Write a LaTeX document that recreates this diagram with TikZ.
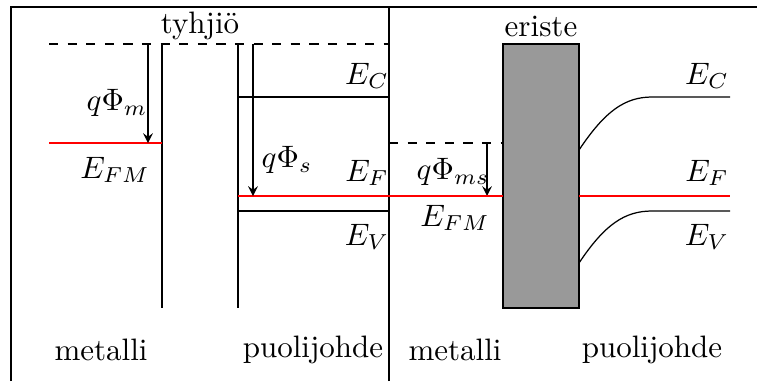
\documentclass[tikz,border=0pt]{standalone}
\usepackage{xcolor}
\usepackage{amsmath}
\usepackage{tikz}
\definecolor{insgray}{HTML}{999999}

\begin{document}
\begin{tikzpicture}[x=0.1134cm, y=0.1134cm]
    \useasboundingbox (0, 0) rectangle (75.7, 38.1);
    % frame
    \draw (1.1, 0) -- (1.1, 37.4) -- (75.7, 37.4);
    \draw (38.9, 0) -- (38.9, 37.4);

    % metalli ja puolijohde erikseen
    \node (vac) at (20, 35.5) {tyhjiö};
    \draw[dashed] (4.9, 33.7) -- (38.9, 33.7);
    \draw (16.2, 33.7) -- (16.2, 7.3);
    \draw[red] (4.9, 23.8) -- (16.2, 23.8);
    \coordinate (phim0) at (14.8, 33.7);
    \coordinate (phim1) at (14.8, 23.8);
    \draw[-stealth] (phim0) -- (phim1);
    \node (phim) at (11.7, 27.8) {$q\Phi_m$};
    \node (efm) at (11.5, 21.1) {$E_{FM}$};

    \draw (23.8, 33.7) -- (23.8, 7.3);
    \draw (23.8, 28.4) -- (38.9, 28.4);
    \draw[red] (23.8, 18.5) -- (38.9, 18.5);
    \draw (23.8, 17.0) -- (38.9, 17.0);
    \coordinate (phis0) at (25.3, 33.7);
    \coordinate (phis1) at (25.3, 18.5);
    \draw[-stealth] (phis0) -- (phis1);
    \node (phis) at (28.7, 22.1) {$q\Phi_s$};
    \node (ec) at (36.7, 30.5) {$E_C$};
    \node (ef) at (36.7, 20.8) {$E_F$};
    \node (ev) at (36.7, 14.4) {$E_V$};
    \node (met) at (10.1, 3.1) {metalli};
    \node (sem) at (31.3, 3.1) {puolijohde};

    % MOS-rakenne
    \node (ins) at (54.1, 35.5) {eriste};
    \fill[insgray] (50.3, 7.3) rectangle (57.9, 33.7);
    \draw (50.3, 7.3) rectangle (57.9, 33.7);
    \draw[dashed] (38.9, 23.8) -- (50.3, 23.8);
    \coordinate (phims0) at (48.7, 23.8);
    \coordinate (phims1) at (48.7, 18.5);
    \draw[-stealth] (phims0) -- (phims1);
    \node (phims) at (45.3, 20.9) {$q\Phi_{ms}$};
    \draw[red] (38.9, 18.5) -- (50.3, 18.5);
    \draw[red] (57.9, 18.5) -- (73.0, 18.5);
    \node (efm2) at (45.5, 16.3) {$E_{FM}$};
    \draw (57.9, 23.1) .. controls (60.5, 27) and (62.5, 28.4) .. (65.2, 28.4) -- (73.0, 28.4);
    \draw (57.9, 11.8) .. controls (60.5, 15.7) and (62.5, 17.0) .. (65.2, 17.0) -- (73.0, 17.0);
    \node (ec2) at (70.7, 30.5) {$E_C$};
    \node (ef2) at (70.7, 20.8) {$E_F$};
    \node (ev2) at (70.7, 14.4) {$E_V$};
    \node (met2) at (45.5, 3.1) {metalli};
    \node (sem2) at (65.2, 3.1) {puolijohde};
\end{tikzpicture}
\end{document}
